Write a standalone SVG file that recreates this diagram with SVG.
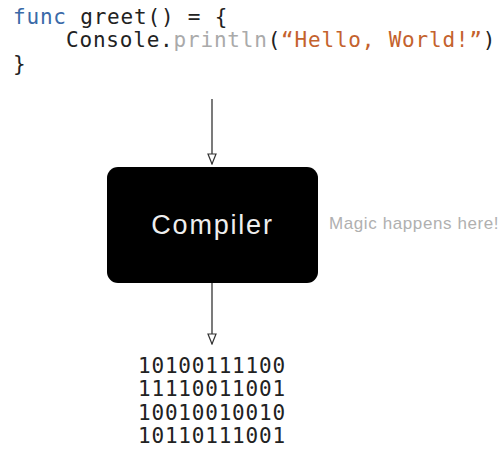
<svg xmlns="http://www.w3.org/2000/svg" width="502" height="450" viewBox="0 0 502 450">
  <style>
    .code { font-family: "DejaVu Sans Mono", "Liberation Mono", monospace; font-size: 21px; letter-spacing: 0.8px; fill: #222222; }
    .kw { fill: #3a6aa8; }
    .fn { fill: #aaaaaa; }
    .str { fill: #c4622d; }
    .conn { stroke: #333333; stroke-width: 1.3; fill: none; }
    .label { font-family: "Liberation Sans", Arial, sans-serif; }
  </style>
  <defs>
    <marker id="open-arrow" viewBox="0 0 12 10" refX="11" refY="5" markerWidth="12" markerHeight="10" markerUnits="userSpaceOnUse" orient="auto">
      <path d="M1,1 L11,5 L1,9 z" fill="#ffffff" stroke="#333333" stroke-width="1.2"/>
    </marker>
  </defs>
  <rect width="502" height="450" fill="#ffffff"/>

  <g id="source-code">
    <text class="code" x="13" y="24"><tspan class="kw">func</tspan> greet() = {</text>
    <text class="code" x="66" y="47">Console.<tspan class="fn">println</tspan>(<tspan class="str">“Hello, World!”</tspan>)</text>
    <text class="code" x="13" y="71">}</text>
  </g>

  <g id="connectors">
    <line class="conn" x1="212" y1="99" x2="212" y2="164" marker-end="url(#open-arrow)"/>
    <line class="conn" x1="212" y1="283" x2="212" y2="344" marker-end="url(#open-arrow)"/>
  </g>

  <g id="compiler">
    <rect x="107" y="167" width="211" height="116" rx="11" ry="11" fill="#000000"/>
    <text class="label" x="212.5" y="234" text-anchor="middle" font-size="27" letter-spacing="1.8" fill="#eeeeee">Compiler</text>
  </g>

  <g id="note">
    <text class="label" x="329" y="229" font-size="17" letter-spacing="0.6" fill="#b0b0b0">Magic happens here!</text>
  </g>

  <g id="binary-output">
    <text class="code" x="138" y="373">10100111100</text>
    <text class="code" x="138" y="396">11110011001</text>
    <text class="code" x="138" y="420">10010010010</text>
    <text class="code" x="138" y="443">10110111001</text>
  </g>
</svg>
